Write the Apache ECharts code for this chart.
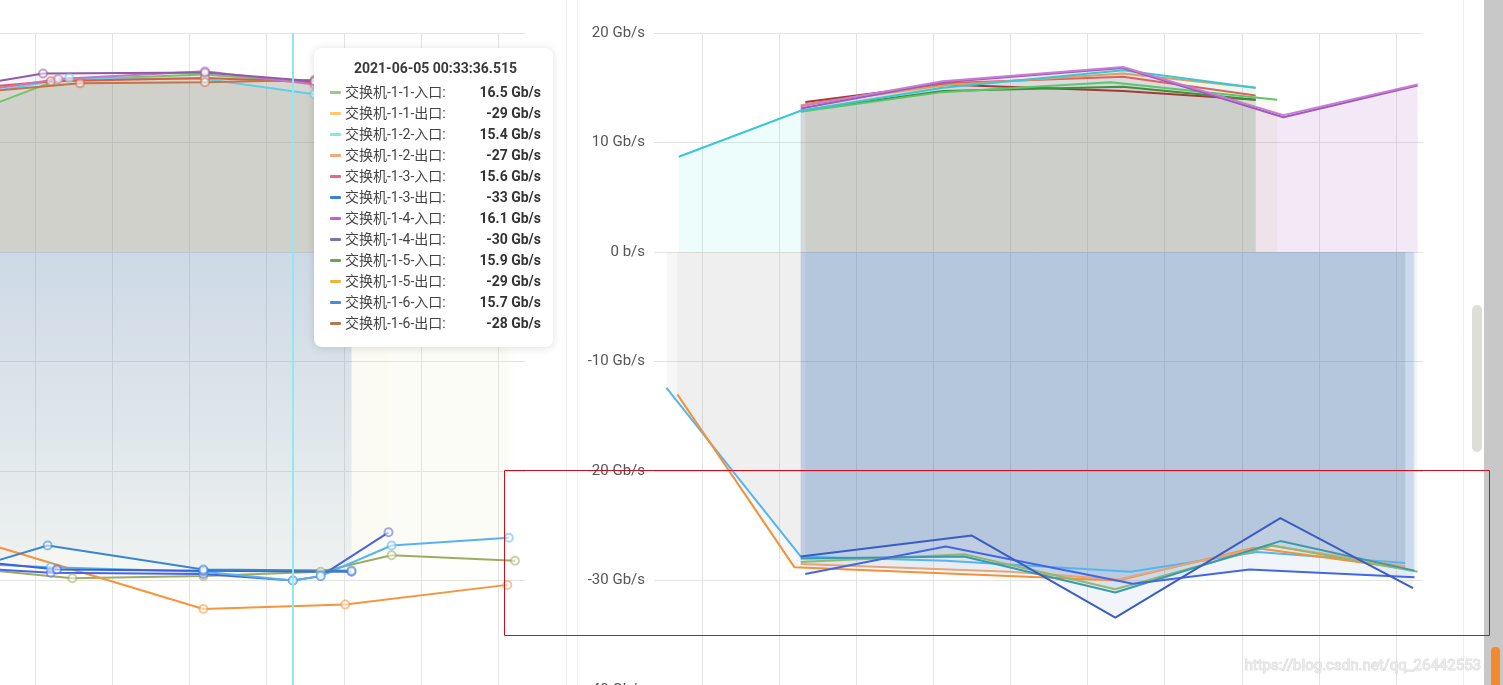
<!DOCTYPE html>
<html><head><meta charset="utf-8">
<script src="https://cdn.jsdelivr.net/npm/echarts@6/dist/echarts.min.js"></script>
<style>html,body{margin:0;padding:0;background:#fff;overflow:hidden}#c{width:1503px;height:685px}</style>
</head><body><div id="c"></div>
<script>
// ---- shared axes (x in minutes of the time window) ----
const X_MIN = -3.11, X_MAX = 46.75;
const HOVER_X = 31.71;            // time under the mouse in the left panel (tooltip time)
const yTicks = [-40, -30, -20, -10, 0, 10, 20];
const yUnit = 'Gb/s';

// ---- left panel : inbound (positive) ----
const leftIn11 = [[8, 11.2], [16.4, 15.7], [26, 16.2], [33.1, 15.4], [35.5, 15.2]];
const leftIn12 = [[8, 13.6], [17.2, 15.9], [26, 15.8], [33.1, 14.4], [35.5, 14.2]];
const leftIn13 = [[8, 14.6], [16, 15.6], [26, 15.9], [33.1, 15.5], [35.5, 15.4]];
const leftIn14 = [[8, 14.5], [15.5, 16.3], [26, 16.4], [33.1, 15.6], [35.5, 15.5]];
const leftIn15 = [[8, 14.2], [17.9, 15.4], [26, 15.5], [33.1, 15.7], [35.5, 15.6]];
const leftIn16 = [[8, 14.0], [16.5, 15.8], [26, 16.5], [33.1, 15.3], [35.5, 15.0]];
// ---- left panel : outbound (negative) ----
const leftOut11 = [[8, -28.5], [17.4, -29.8], [25.9, -29.6], [33.5, -29.2], [38.1, -27.7], [46.1, -28.2]];
const leftOut12 = [[8, -25.0], [25.9, -32.6], [35.1, -32.2], [45.6, -30.4]];
const leftOut13 = [[8, -27.8], [16.4, -29.0], [25.9, -29.1], [35.5, -29.2]];
const leftOut14 = [[8, -28.6], [16, -29.3], [25.9, -29.4], [31.7, -30.0], [33.5, -29.6], [37.9, -25.6]];
const leftOut15 = [[8, -28.3], [16, -28.8], [25.9, -29.2], [31.7, -30.0], [33.5, -29.6], [38.1, -26.8], [45.7, -26.1]];
const leftOut16 = [[8, -30.1], [15.8, -26.8], [25.9, -29.0], [35.5, -29.1]];

// ---- right panel : inbound (positive) ----
const rightIn1 = [[-1.5, 8.7], [6.4, 12.9], [15.6, 15.0], [27.3, 16.6], [35.9, 15.0]];
const rightIn2 = [[6.4, 13.1], [15.6, 15.5], [27.3, 16.8], [37.7, 12.3], [46.4, 15.2]];
const rightIn3 = [[6.4, 13.3], [15.6, 15.6], [27.3, 16.9], [37.7, 12.5], [46.4, 15.3]];
const rightIn4 = [[6.7, 13.7], [15.6, 15.3], [27.3, 14.7], [35.9, 13.9]];
const rightIn5 = [[6.4, 12.8], [15.6, 14.6], [26.5, 15.5], [37.3, 13.9]];
const rightIn6 = [[6.4, 13.4], [15.6, 15.2], [27.3, 16.3], [35.9, 15.0]];
const rightIn7 = [[6.4, 12.9], [15.6, 14.7], [27.3, 15.1], [35.9, 13.9]];
const rightIn8 = [[6.7, 13.5], [15.6, 15.4], [27.3, 16.0], [35.9, 14.3]];
// ---- right panel : outbound (negative) ----
const rightOut1 = [[-2.3, -12.4], [6.4, -27.8], [15.8, -28.2], [27.8, -29.2], [36.0, -27.4], [45.6, -28.4]];
const rightOut2 = [[-1.6, -13.0], [6.0, -28.8], [27.0, -30.0], [35.8, -27.0], [45.6, -28.9]];
const rightOut3 = [[6.4, -27.8], [17.5, -25.9], [26.8, -33.4], [37.5, -24.3], [46.1, -30.7]];
const rightOut4 = [[6.7, -29.4], [15.8, -26.9], [27.95, -30.3], [35.5, -29.0], [46.2, -29.7]];
const rightOut5 = [[6.4, -28.0], [17, -27.8], [26.8, -31.1], [37.5, -26.4], [46.2, -29.1]];
const rightOut6 = [[6.4, -28.3], [17, -27.6], [26.8, -30.8], [37.0, -26.8], [46.4, -29.2]];
const rightOut7 = [[6.4, -28.5], [20, -29.2], [27, -29.9], [36.8, -26.8], [45.6, -28.7]];

// ---- tooltip content ----
const tooltipTime = '2021-06-05 00:33:36.515';
const tooltipNames = ['交换机-1-1-入口', '交换机-1-1-出口', '交换机-1-2-入口', '交换机-1-2-出口',
  '交换机-1-3-入口', '交换机-1-3-出口', '交换机-1-4-入口', '交换机-1-4-出口',
  '交换机-1-5-入口', '交换机-1-5-出口', '交换机-1-6-入口', '交换机-1-6-出口'];
const tooltipValues = [16.5, -29, 15.4, -27, 15.6, -33, 16.1, -30, 15.9, -29, 15.7, -28];
const tooltipColors = ['#8fcf7e', '#fbc96a', '#8ae3e6', '#f4a778', '#e8687c', '#3f7fd3',
  '#c55ec8', '#7c74a8', '#66a85a', '#f2b33a', '#3f8fdb', '#b97450'];

const FONT = 'Roboto, "Noto Sans CJK SC", sans-serif';
const GUIDE_COLOR = '#8feaf0';

function fillOf(c) { return { color: c, opacity: 1 }; }
const greyL = fillOf('rgba(140,140,130,0.08)');
const creamL = fillOf('rgba(240,225,160,0.035)');
const blueL = fillOf({ type: 'linear', x: 0, y: 0, x2: 0, y2: 1, colorStops: [
  { offset: 0, color: 'rgba(60,110,190,0.13)' }, { offset: 1, color: 'rgba(60,110,190,0.03)' }] });
const greyR = fillOf('rgba(150,150,70,0.06)');
const cyanR = fillOf('rgba(60,230,220,0.09)');
const purpR = fillOf('rgba(180,100,190,0.08)');
const lgreyR = fillOf('rgba(150,150,150,0.08)');
const blueR = fillOf('rgba(60,110,190,0.07)');

function line(name, data, color, grid, area, sym) {
  return {
    type: 'line', name: name, data: data, xAxisIndex: grid, yAxisIndex: grid,
    showSymbol: !!sym, symbol: 'emptyCircle', symbolSize: 8,
    lineStyle: { width: 2, color: color }, itemStyle: { color: color, opacity: 0.55 },
    areaStyle: area, emphasis: { disabled: true }, animation: false
  };
}

const series = [
  line('交换机-1-1-入口', leftIn11, '#72c46a', 0, greyL, true),
  line('交换机-1-2-入口', leftIn12, '#62cde6', 0, greyL, true),
  line('交换机-1-3-入口', leftIn13, '#dc5a48', 0, greyL, true),
  line('交换机-1-5-入口', leftIn15, '#c27548', 0, greyL, true),
  line('交换机-1-6-入口', leftIn16, '#c874c8', 0, greyL, true),
  line('交换机-1-4-入口', leftIn14, '#8f5aa8', 0, greyL, true),
  line('交换机-1-1-出口', leftOut11, '#9cac62', 0, creamL, true),
  line('交换机-1-2-出口', leftOut12, '#f4953f', 0, creamL, true),
  line('交换机-1-4-出口', leftOut14, '#4b63e2', 0, creamL, true),
  line('交换机-1-5-出口', leftOut15, '#55b3f0', 0, creamL, true),
  line('交换机-1-3-出口', leftOut13, '#3d5fdc', 0, blueL, true),
  line('交换机-1-6-出口', leftOut16, '#3a86cc', 0, blueL, true),

  line('交换机-2-4-入口', rightIn4, '#a33a33', 1, greyR),
  line('交换机-2-8-入口', rightIn8, '#e0605a', 1, greyR),
  line('交换机-2-7-入口', rightIn7, '#3f8f3f', 1, greyR),
  line('交换机-2-5-入口', rightIn5, '#5fc46a', 1, greyR),
  line('交换机-2-6-入口', rightIn6, '#d9a068', 1, greyR),
  line('交换机-2-1-入口', rightIn1, '#3cc6d2', 1, cyanR),
  line('交换机-2-2-入口', rightIn2, '#9a5cb4', 1, purpR),
  line('交换机-2-3-入口', rightIn3, '#c97bd8', 1, purpR),
  line('交换机-2-1-出口', rightOut1, '#55b5f2', 1, lgreyR),
  line('交换机-2-2-出口', rightOut2, '#f3923c', 1, lgreyR),
  line('交换机-2-7-出口', rightOut7, '#e6a47a', 1, blueR),
  line('交换机-2-6-出口', rightOut6, '#92b86e', 1, blueR),
  line('交换机-2-5-出口', rightOut5, '#3a9ab0', 1, blueR),
  line('交换机-2-4-出口', rightOut4, '#4466e6', 1, blueR),
  line('交换机-2-3-出口', rightOut3, '#3a5cc4', 1, blueR)
];

function xAxisFor(g) {
  return { type: 'value', gridIndex: g, min: X_MIN, max: X_MAX, splitNumber: 10, minInterval: 5, maxInterval: 5,
    axisLabel: { show: false }, axisLine: { show: false }, axisTick: { show: false },
    axisPointer: { show: false },
    splitLine: { show: true, showMinLine: false, showMaxLine: false, lineStyle: { color: '#e3e3e3', width: 1 } } };
}
function yAxisFor(g, showLabel) {
  return { type: 'value', gridIndex: g, min: yTicks[0], max: yTicks[yTicks.length - 1], interval: yTicks[1] - yTicks[0],
    axisLine: { show: false }, axisTick: { show: false },
    axisPointer: { show: false },
    axisLabel: { show: showLabel, margin: 9, fontSize: 15, color: '#555', fontFamily: FONT,
      formatter: v => (v === 0 ? '0 b/s' : v + ' ' + yUnit) },
    splitLine: { show: true, lineStyle: { color: '#e3e3e3', width: 1 } } };
}

function tooltipHtml() {
  let h = '<div style="text-align:center;font-weight:bold;font-size:14px;line-height:21px;color:#3a3a3a;margin-bottom:3px">' + tooltipTime + '</div>';
  for (let i = 0; i < tooltipNames.length; i++) {
    h += '<div style="display:flex;align-items:center;height:21px;font-size:14px;line-height:21px">' +
      '<span style="display:inline-block;width:11px;height:3px;background:' + tooltipColors[i] + ';margin-right:4px;border-radius:1px"></span>' +
      '<span style="flex:1;color:#444">' + tooltipNames[i] + ':</span>' +
      '<span style="font-weight:bold;color:#333">' + tooltipValues[i] + ' ' + yUnit + '</span></div>';
  }
  return h;
}

function decorations(guideX) {
  const g = [
    { type: 'line', shape: { x1: 566.5, y1: 0, x2: 566.5, y2: 685 }, style: { stroke: '#efefef', lineWidth: 1 }, z: 0 },
    { type: 'line', shape: { x1: 577.5, y1: 0, x2: 577.5, y2: 685 }, style: { stroke: '#f3f3f3', lineWidth: 1 }, z: 0 },
    { type: 'line', shape: { x1: 1463.5, y1: 0, x2: 1463.5, y2: 685 }, style: { stroke: '#f0f0f0', lineWidth: 1 }, z: 0 },
    { type: 'rect', shape: { x: 1484, y: 0, width: 19, height: 685 }, style: { fill: '#c8c8c8' }, z: 90 },
    { type: 'rect', shape: { x: 1472, y: 305, width: 10, height: 147, r: 5 }, style: { fill: '#deded8' }, z: 90 },
    { type: 'rect', shape: { x: 1491, y: 647, width: 9, height: 42, r: 4 }, style: { fill: '#f28a2e' }, z: 91 },
    { type: 'rect', shape: { x: 504.5, y: 470.5, width: 985, height: 165 }, style: { fill: 'none', stroke: '#cc1020', lineWidth: 1 }, z: 100 },
    { type: 'text', x: 1481, y: 666, z: 95,
      style: { text: 'https://blog.csdn.net/qq_26442553', font: '15px Roboto, sans-serif', fill: 'rgba(235,235,235,0.9)',
        stroke: 'rgba(150,150,150,0.35)', lineWidth: 1, align: 'right', verticalAlign: 'middle', textAlign: 'right', textVerticalAlign: 'middle' } }
  ];
  if (guideX != null) {
    const x = Math.round(guideX);
    g.push({ type: 'line', shape: { x1: x, y1: 33, x2: x, y2: 685 }, style: { stroke: GUIDE_COLOR, lineWidth: 2 }, z: 80 });
  }
  return g;
}

const chart = echarts.init(document.getElementById('c'), null, { renderer: 'canvas' });
const baseOption = {
  animation: false,
  backgroundColor: '#fff',
  textStyle: { fontFamily: FONT },
  grid: [
    { left: -244, top: 33, width: 769, height: 657, containLabel: false, outerBoundsMode: 'none' },
    { left: 654, top: 33, width: 769, height: 657, containLabel: false, outerBoundsMode: 'none' }
  ],
  xAxis: [xAxisFor(0), xAxisFor(1)],
  yAxis: [yAxisFor(0, false), yAxisFor(1, true)],
  tooltip: {
    trigger: 'item', triggerOn: 'none', alwaysShowContent: true,
    position: [314, 48], backgroundColor: '#fff', borderWidth: 0, padding: [10, 12, 13, 16],
    transitionDuration: 0,
    extraCssText: 'border-radius:8px;box-shadow:0 1px 10px rgba(0,0,0,0.13);width:211px;font-family:' + FONT.replace(/"/g, "'") + ';',
    formatter: tooltipHtml
  },
  graphic: decorations(null),
  series: series
};
chart.setOption(baseOption);
// place the hover guide through the left panel's own x scale
const guidePx = chart.convertToPixel({ xAxisIndex: 0 }, HOVER_X);
chart.setOption({ graphic: decorations(guidePx) });
chart.dispatchAction({ type: 'showTip', seriesIndex: 11, dataIndex: 2 });
</script>
</body></html>
